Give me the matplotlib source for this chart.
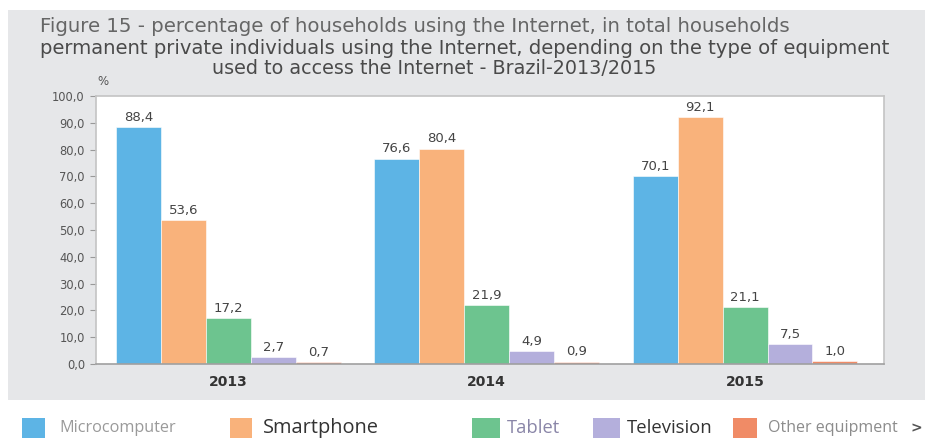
import matplotlib
matplotlib.use("Agg")
import matplotlib.pyplot as plt
from matplotlib.patches import Rectangle
import numpy as np

years = ["2013", "2014", "2015"]
equipment = ["Microcomputer", "Smartphone", "Tablet", "Television", "Other equipment"]
values = {
    "Microcomputer": [88.4, 76.6, 70.1],
    "Smartphone": [53.6, 80.4, 92.1],
    "Tablet": [17.2, 21.9, 21.1],
    "Television": [2.7, 4.9, 7.5],
    "Other equipment": [0.7, 0.9, 1.0],
}
colors = ["#5db4e5", "#f9b27b", "#6dc48f", "#b4afdc", "#f08b66"]
yticks = np.arange(0, 101, 10)

W, H = 925, 438
fig = plt.figure(figsize=(W / 100, H / 100), dpi=100)
fig.patch.set_facecolor("white")


def fx(px):
    return px / W


def fy(py):
    return 1 - py / H


# grey panel behind title and chart
fig.patches.append(Rectangle((fx(8), fy(400)), 1 - fx(8), (400 - 10) / H,
                             transform=fig.transFigure, facecolor="#e6e7e9",
                             edgecolor="none", zorder=-5))

ax = fig.add_axes([fx(96), fy(364), fx(884) - fx(96), fy(96) - fy(364)])
ax.set_zorder(2)
ax.set_facecolor("white")

x = np.arange(len(years))
bw = 0.174
for i, name in enumerate(equipment):
    pos = x + (i - 2) * bw
    bars = ax.bar(pos, values[name], width=bw, color=colors[i],
                  edgecolor="white", linewidth=0.4, zorder=2)
    for b, v in zip(bars, values[name]):
        ax.text(b.get_x() + b.get_width() / 2, v + 1.2,
                f"{v:.1f}".replace(".", ","), ha="center", va="bottom",
                fontsize=9.5, color="#444444", family="DejaVu Sans")

ax.set_xlim(-0.513, 2.538)
ax.set_ylim(0, 100)
ax.set_yticks(yticks)
ax.set_yticklabels([f"{t:.1f}".replace(".", ",") for t in yticks],
                   fontsize=8.3, color="#555555", family="DejaVu Sans")
ax.tick_params(axis="y", length=4, color="#999999", pad=4)
ax.set_xticks(x)
ax.set_xticklabels(years, fontsize=10, color="#333333", family="DejaVu Sans",
                   fontweight="bold")
ax.tick_params(axis="x", length=0, pad=8)
for s in ax.spines.values():
    s.set_color("#c4c4c4")
    s.set_linewidth(1.2)
ax.spines["bottom"].set_color("#a0a0a0")

fig.text(fx(97), fy(82), "%", fontsize=8.5, color="#555555", va="center")

# title block
fig.text(fx(40), fy(26), "Figure 15 - percentage of households using the Internet, in total households",
         fontsize=14.2, color="#666666", family="DejaVu Sans", va="center")
fig.text(fx(40), fy(48), "permanent private individuals using the Internet, depending on the type of equipment",
         fontsize=14.1, color="#4a4a4a", family="DejaVu Sans", va="center")
fig.text(fx(212), fy(68), "used to access the Internet - Brazil-2013/2015",
         fontsize=13.8, color="#4a4a4a", family="DejaVu Sans", va="center")

# legend strip along the bottom
patch_x = [(22, 45), (230, 252), (472, 500), (593, 620), (733, 757)]
text_x = [59, 263, 507, 627, 768]
text_col = ["#9a9a9a", "#333333", "#8a86a8", "#333333", "#8c8c8c"]
text_size = [11.7, 14.4, 13.2, 13.3, 11.5]
for i, name in enumerate(equipment):
    x0, x1 = patch_x[i]
    fig.patches.append(Rectangle((fx(x0), 0), fx(x1) - fx(x0), fy(418),
                                 transform=fig.transFigure, facecolor=colors[i],
                                 edgecolor="none"))
    fig.text(fx(text_x[i]), fy(428), name, fontsize=text_size[i], color=text_col[i],
             family="Open Sans", va="center")
fig.text(fx(910), fy(428), ">", fontsize=10, color="#555555", family="DejaVu Sans",
         va="center", fontweight="bold")

fig.savefig("out.png", dpi=100)
